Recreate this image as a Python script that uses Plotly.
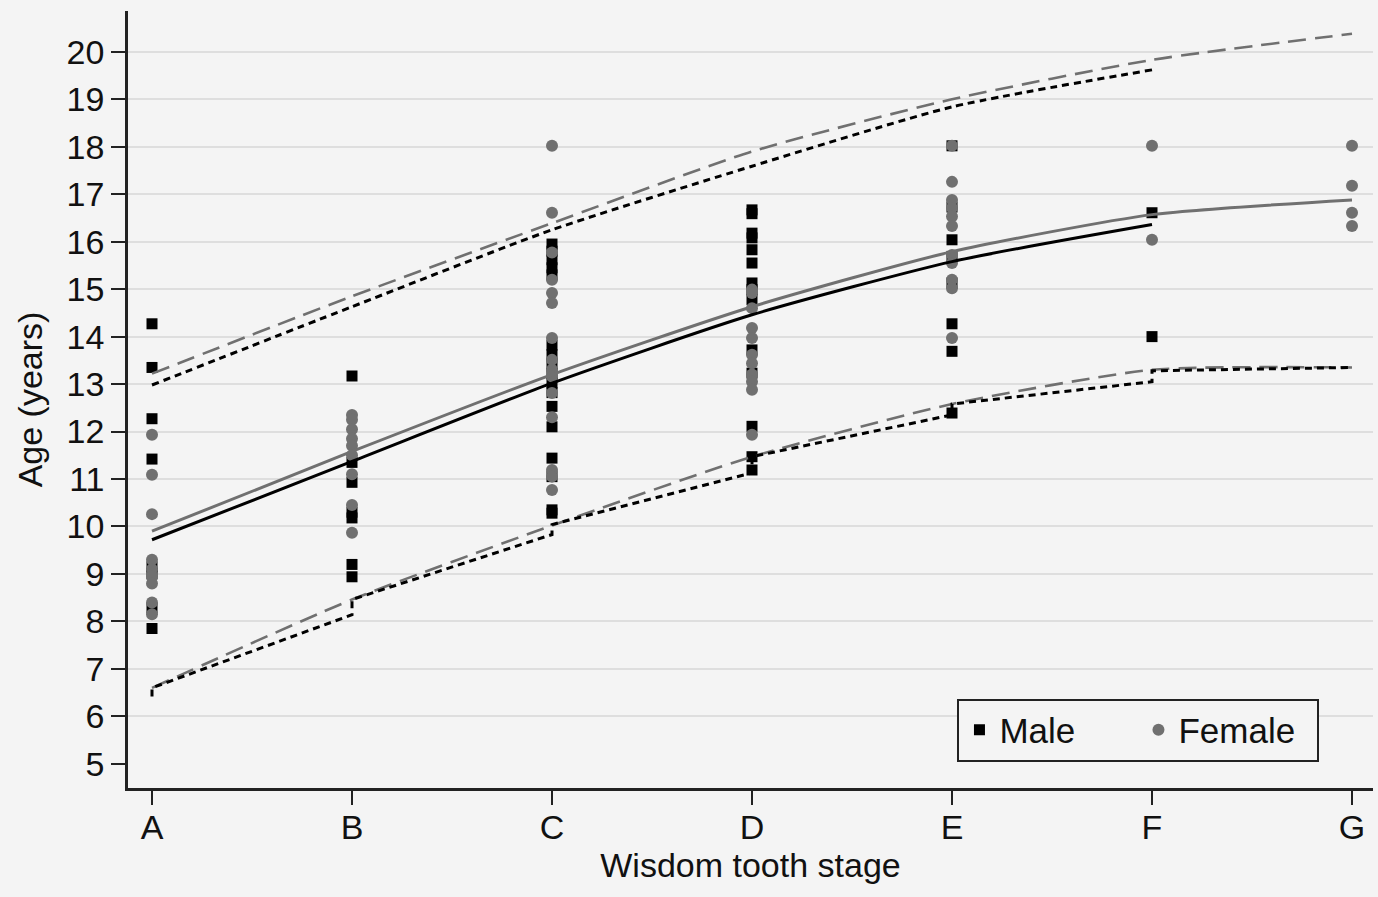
import plotly.graph_objects as go

stages = ["A", "B", "C", "D", "E", "F", "G"]

# Observed ages (years) per wisdom tooth stage
male_A = [14.27, 13.35, 12.27, 11.42, 9.15, 9.0, 8.28, 7.85]
male_B = [13.17, 11.35, 10.93, 10.3, 10.18, 9.2, 8.94]
male_C = [15.95, 15.8, 15.62, 15.45, 15.3, 13.82, 13.62, 13.42, 13.22, 13.02,
          12.82, 12.53, 12.1, 11.44, 11.05, 10.35, 10.28]
male_D = [16.67, 16.59, 16.18, 16.08, 15.83, 15.55, 15.13, 14.99, 14.78,
          13.72, 13.23, 12.11, 11.47, 11.19]
male_E = [18.02, 16.73, 16.04, 15.69, 15.13, 14.27, 13.69, 12.39]
male_F = [16.61, 14.0]

female_A = [11.93, 11.09, 10.26, 9.3, 9.1, 8.95, 8.8, 8.4, 8.15]
female_B = [12.35, 12.25, 12.05, 11.85, 11.7, 11.5, 11.1, 10.45, 9.87]
female_C = [18.02, 16.61, 15.77, 15.2, 14.92, 14.71, 13.97, 13.51, 13.3,
            13.16, 12.81, 12.3, 11.19, 11.05, 10.77]
female_D = [14.99, 14.92, 14.6, 14.18, 13.97, 13.62, 13.44, 13.2, 13.05,
            12.88, 11.93]
female_E = [18.02, 17.26, 16.88, 16.71, 16.53, 16.33, 15.72, 15.55, 15.2,
            15.02, 13.97]
female_F = [18.02, 16.04]
female_G = [18.02, 17.18, 16.61, 16.33]

# Fitted curves
male_mean = [9.72, 11.37, 13.02, 14.46, 15.58, 16.36]
female_mean = [9.9, 11.58, 13.2, 14.63, 15.79, 16.57, 16.88]
male_upper = [12.98, 14.63, 16.25, 17.59, 18.84, 19.62]
female_upper = [13.22, 14.85, 16.39, 17.9, 19.0, 19.83, 20.38]
female_lower = [6.6, 8.46, 10.02, 11.47, 12.58, 13.3, 13.35]
male_lower_stage = ["A", "A", "B", "B", "C", "C", "D", "D", "E", "E", "F", "F", "G"]
male_lower = [6.42, 6.6, 8.14, 8.46, 9.83, 10.04, 11.13, 11.47, 12.35, 12.58,
              13.05, 13.28, 13.35]

male_groups = [male_A, male_B, male_C, male_D, male_E, male_F]
female_groups = [female_A, female_B, female_C, female_D, female_E, female_F, female_G]

def flatten(groups):
    xs, ys = [], []
    for st, vals in zip(stages, groups):
        xs += [st] * len(vals)
        ys += vals
    return xs, ys

BLACK = "#000000"
GRAY = "#707070"
BG = "#f4f4f4"
FONT = "Liberation Sans, Arial, Helvetica, sans-serif"

fig = go.Figure()

mx, my = flatten(male_groups)
fx, fy = flatten(female_groups)

fig.add_trace(go.Scatter(x=mx, y=my, mode="markers", name="Male",
                         marker=dict(symbol="square", size=11, color=BLACK,
                                     line=dict(width=0))))
fig.add_trace(go.Scatter(x=fx, y=fy, mode="markers", name="Female",
                         marker=dict(symbol="circle", size=12, color=GRAY,
                                     line=dict(width=0))))

fig.add_trace(go.Scatter(x=stages, y=female_upper, mode="lines", showlegend=False,
                         line=dict(color=GRAY, width=2.6, dash="18px,9px",
                                   shape="spline", smoothing=0.6)))
fig.add_trace(go.Scatter(x=stages, y=female_lower, mode="lines", showlegend=False,
                         line=dict(color=GRAY, width=2.6, dash="18px,9px",
                                   shape="spline", smoothing=0.6)))
fig.add_trace(go.Scatter(x=stages[:6], y=male_upper, mode="lines", showlegend=False,
                         line=dict(color=BLACK, width=3, dash="7px,5px",
                                   shape="spline", smoothing=0.6)))
fig.add_trace(go.Scatter(x=male_lower_stage, y=male_lower, mode="lines", showlegend=False,
                         line=dict(color=BLACK, width=3, dash="7px,5px")))
fig.add_trace(go.Scatter(x=stages, y=female_mean, mode="lines", showlegend=False,
                         line=dict(color=GRAY, width=3, shape="spline", smoothing=0.6)))
fig.add_trace(go.Scatter(x=stages[:6], y=male_mean, mode="lines", showlegend=False,
                         line=dict(color=BLACK, width=3, shape="spline", smoothing=0.6)))

fig.update_layout(
    width=1378, height=897,
    margin=dict(l=128, r=5, t=11, b=109),
    paper_bgcolor=BG, plot_bgcolor=BG,
    font=dict(family=FONT, size=34, color="#111111"),
    showlegend=True,
    legend=dict(orientation="h", x=0.957, xanchor="right", y=0.034, yanchor="bottom",
                bgcolor=BG, bordercolor="#222222", borderwidth=2,
                font=dict(size=35, color="#111111"),
                entrywidth=134, entrywidthmode="pixels",
                itemsizing="trace"),
    xaxis=dict(type="category", categoryorder="array", categoryarray=stages,
               range=[-0.12, 6.105], showgrid=False, zeroline=False,
               showline=True, linecolor="#222222", linewidth=2.5,
               ticks="outside", ticklen=14, tickwidth=2, tickcolor="#222222",
               tickfont=dict(size=34), ticklabelstandoff=-7,
               title=dict(text="Wisdom tooth stage", font=dict(size=34), standoff=4)),
    yaxis=dict(range=[4.49, 20.86], tickmode="linear", tick0=5, dtick=1,
               showgrid=False, zeroline=False,
               showline=True, linecolor="#222222", linewidth=2.5,
               ticks="outside", ticklen=14, tickwidth=2, tickcolor="#222222",
               tickfont=dict(size=34),
               minor=dict(tickvals=list(range(6, 21)), showgrid=True,
                          gridcolor="#dedede", gridwidth=2, ticks=""),
               title=dict(text="Age (years)", font=dict(size=34), standoff=14)),
)

fig.write_html("out.html")
